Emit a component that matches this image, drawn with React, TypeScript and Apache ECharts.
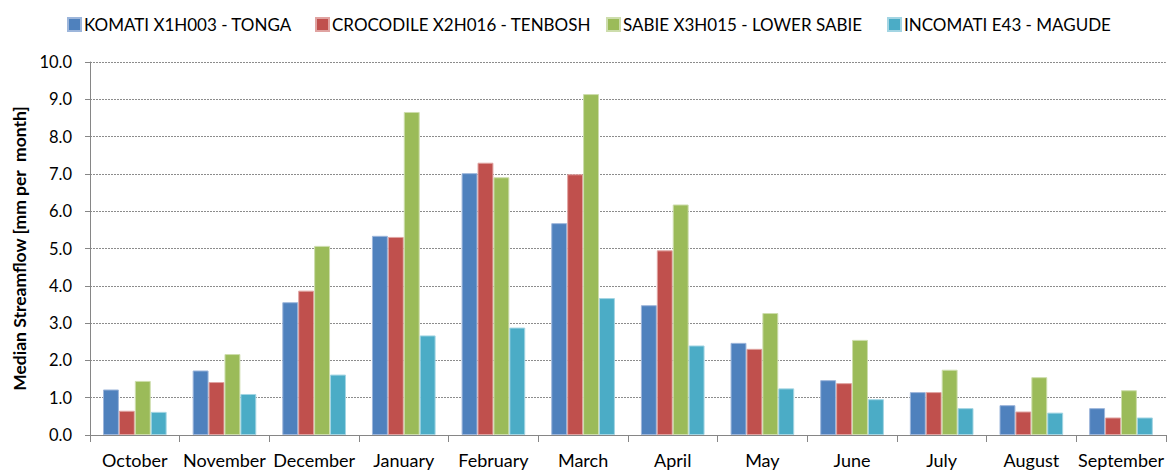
import React, { useEffect, useRef } from "react";
import * as echarts from "echarts";

const months = ["October", "November", "December", "January", "February", "March", "April", "May", "June", "July", "August", "September"];
const seriesNames = ["KOMATI X1H003 - TONGA", "CROCODILE X2H016 - TENBOSH", "SABIE X3H015 - LOWER SABIE", "INCOMATI E43 - MAGUDE"];
const komati = [1.22, 1.73, 3.56, 5.34, 7.02, 5.68, 3.48, 2.47, 1.47, 1.15, 0.8, 0.72];
const crocodile = [0.65, 1.42, 3.87, 5.31, 7.3, 6.99, 4.95, 2.31, 1.39, 1.15, 0.63, 0.47];
const sabie = [1.45, 2.17, 5.07, 8.66, 6.91, 9.14, 6.18, 3.27, 2.55, 1.75, 1.55, 1.2];
const incomati = [0.62, 1.1, 1.62, 2.67, 2.88, 3.67, 2.4, 1.25, 0.96, 0.72, 0.6, 0.47];
const colors = ["#4F81BD", "#C0504D", "#9BBB59", "#4BACC6"];
const borders = ["#9DB6DB", "#E0A3A1", "#CDDDAC", "#A3D5E3"];
const legendLeft = [62, 310, 601, 882];

export default function App() {
  const ref = useRef<HTMLDivElement>(null);
  useEffect(() => {
    if (!ref.current) return;
    const chart = echarts.init(ref.current, undefined, { renderer: "svg" });
    const data = [komati, crocodile, sabie, incomati];
    const font = "Lato, 'Open Sans', sans-serif";
    chart.setOption({
      animation: false,
      textStyle: { fontFamily: font },
      legend: seriesNames.map((name, i) => ({
        top: 11,
        left: legendLeft[i],
        itemWidth: 13,
        itemHeight: 13,
        icon: "rect",
        textStyle: { fontSize: 17, color: "#000", fontFamily: font, padding: [0, 0, 0, -2] },
        data: [name],
      })),
      grid: { left: 90, right: 1, top: 62, bottom: 37, containLabel: false },
      xAxis: {
        type: "category",
        data: months,
        axisLine: { lineStyle: { color: "#868686", width: 1 } },
        axisTick: { show: true, length: 7, lineStyle: { color: "#868686" }, alignWithLabel: false },
        axisLabel: { color: "#000", fontSize: 18, margin: 16, interval: 0, fontFamily: font },
      },
      yAxis: {
        type: "value",
        min: 0,
        max: 10,
        interval: 1,
        name: "Median Streamflow [mm per  month]",
        nameLocation: "middle",
        nameGap: 59,
        nameTextStyle: { fontWeight: "bold", fontSize: 17.5, color: "#000", fontFamily: font },
        axisLine: { show: true, lineStyle: { color: "#868686" } },
        axisTick: { show: true, inside: false, length: 5, lineStyle: { color: "#868686" } },
        axisLabel: { color: "#000", fontSize: 16.5, margin: 18, formatter: (v: number) => v.toFixed(1), fontFamily: font },
        splitLine: { show: true, lineStyle: { color: "#8c8c8c", type: [2, 1], width: 1 } },
      },
      series: seriesNames.map((name, i) => ({
        name,
        type: "bar",
        data: data[i],
        barGap: "0%",
        barCategoryGap: "29%",
        itemStyle: { color: colors[i], borderColor: borders[i], borderWidth: 1 },
      })),
    });
    return () => chart.dispose();
  }, []);
  return <div ref={ref} style={{ width: 1167, height: 472, position: "absolute", left: 0, top: 0 }} />;
}
